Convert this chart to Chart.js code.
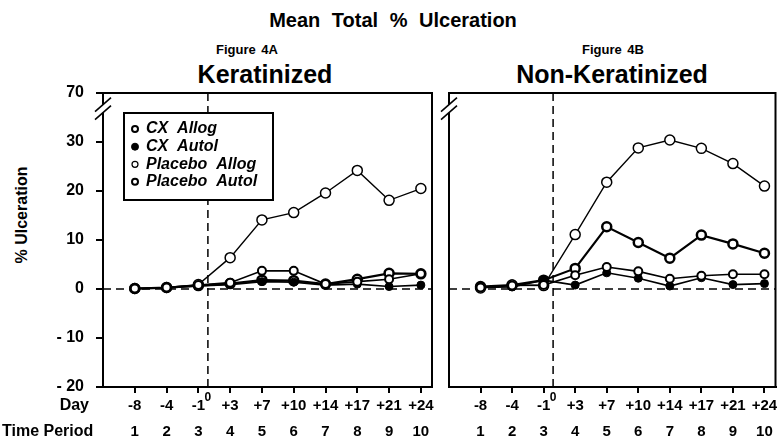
<!DOCTYPE html>
<html><head><meta charset="utf-8">
<script src="https://cdn.jsdelivr.net/npm/chart.js@4.4.0/dist/chart.umd.min.js"></script>
<style>
html,body{margin:0;padding:0;background:#fff;}
body{width:783px;height:441px;position:relative;overflow:hidden;font-family:"Liberation Sans",Arial,sans-serif;font-weight:bold;color:#000;}
.t{position:absolute;white-space:nowrap;transform:translate(-50%,-50%);}
#wa{position:absolute;left:0;top:80px;width:440px;height:361px;}
#wb{position:absolute;left:440px;top:80px;width:343px;height:361px;}
</style></head><body>
<div class="t" style="left:393px;top:20px;font-size:20px;word-spacing:6px">Mean Total % Ulceration</div>
<div class="t" style="left:247px;top:49px;font-size:13px;word-spacing:2px">Figure 4A</div>
<div class="t" style="left:265px;top:74px;font-size:25px">Keratinized</div>
<div class="t" style="left:613px;top:49px;font-size:13px;word-spacing:2px">Figure 4B</div>
<div class="t" style="left:612px;top:74px;font-size:25px">Non-Keratinized</div>
<div class="t" style="left:22px;top:215px;font-size:16px;transform:translate(-50%,-50%) rotate(-90deg)">% Ulceration</div>
<div id="wa"><canvas id="ca"></canvas></div>
<div id="wb"><canvas id="cb"></canvas></div>
<script>
// ---- data ----
const periods = [1,2,3,4,5,6,7,8,9,10];
const dayLabels = ['-8','-4','-1','+3','+7','+10','+14','+17','+21','+24'];
const periodLabels = ['1','2','3','4','5','6','7','8','9','10'];
const seriesNames = ['CX Allog','CX Autol','Placebo Allog','Placebo Autol'];
const yTickValues = [-20,-10,0,10,20,30,40];
const yTickLabels = ['- 20','- 10','0','10','20','30','70'];
const dayZeroPosition = 3.3;
const breakValue = 36.8;

// Figure 4A Keratinized
const kerCxAllog      = [0.1, 0.3, 0.8, 1.3, 3.7, 3.7, 1.0, 1.5, 2.0, 3.1];
const kerCxAutol      = [0.0, 0.2, 0.6, 0.9, 1.5, 1.4, 0.8, 1.0, 0.5, 0.8];
const kerPlaceboAllog = [0.1, 0.3, 0.9, 6.4, 14.1, 15.6, 19.6, 24.2, 18.1, 20.5];
const kerPlaceboAutol = [0.1, 0.3, 0.7, 1.1, 1.8, 1.7, 1.0, 2.0, 3.2, 3.1];

// Figure 4B Non-Keratinized
const nonCxAllog      = [0.3, 0.7, 0.8, 2.8, 4.5, 3.6, 2.1, 2.7, 3.0, 3.0];
const nonCxAutol      = [0.3, 0.4, 1.8, 0.8, 3.3, 2.2, 0.6, 2.3, 0.9, 1.1];
const nonPlaceboAllog = [0.2, 0.8, 0.7, 11.1, 21.8, 28.8, 30.4, 28.7, 25.6, 21.0];
const nonPlaceboAutol = [0.5, 0.8, 1.8, 4.2, 12.7, 9.5, 6.3, 11.0, 9.2, 7.3];

// ---- styles ----
const FONT = '"Liberation Sans", Arial, sans-serif';
const styles = [
  {pointRadius:4, pointBorderWidth:2, pointBackgroundColor:'#fff', borderWidth:1.6},
  {pointRadius:4, pointBorderWidth:1, pointBackgroundColor:'#000', borderWidth:1.6},
  {pointRadius:5, pointBorderWidth:1.5, pointBackgroundColor:'#fff', borderWidth:1.4},
  {pointRadius:4.5, pointBorderWidth:2.5, pointBackgroundColor:'#fff', borderWidth:2.2}
];

function makeDatasets(arrs){
  return arrs.map((arr, i) => Object.assign({
    label: seriesNames[i],
    data: periods.map((p, j) => ({x: p, y: arr[j]})),
    borderColor: '#000',
    pointBorderColor: '#000',
    pointStyle: 'circle',
    pointHoverRadius: 5,
    tension: 0,
    clip: false
  }, styles[i]));
}

function makeDecor(isLeft){
  return {
    id: 'decor',
    beforeDatasetsDraw(chart){
      const {ctx, chartArea: a, scales: {x, y}} = chart;
      ctx.save();
      ctx.strokeStyle = '#000'; ctx.lineWidth = 2; ctx.setLineDash([]);
      ctx.beginPath(); ctx.moveTo(a.left, a.top); ctx.lineTo(a.right, a.top); ctx.lineTo(a.right, a.bottom); ctx.stroke();
      ctx.lineWidth = 1.5; ctx.setLineDash([8, 5]);
      const y0 = y.getPixelForValue(0);
      ctx.beginPath(); ctx.moveTo(a.left, y0); ctx.lineTo(a.right, y0); ctx.stroke();
      const xd = x.getPixelForValue(dayZeroPosition);
      ctx.beginPath(); ctx.moveTo(xd, a.top); ctx.lineTo(xd, a.bottom); ctx.stroke();
      ctx.restore();
    },
    afterDraw(chart){
      const {ctx, chartArea: a, scales: {x, y}} = chart;
      ctx.save();
      // axis break
      const yb = y.getPixelForValue(breakValue);
      const xa = a.left;
      ctx.fillStyle = '#fff'; ctx.fillRect(xa - 2, yb - 4, 4, 8);
      ctx.strokeStyle = '#000'; ctx.lineWidth = 1.6; ctx.setLineDash([]);
      for (const d of [-4, 4]) {
        ctx.beginPath(); ctx.moveTo(xa - 8, yb + d + 7); ctx.lineTo(xa + 8, yb + d - 7); ctx.stroke();
      }
      // superscript 0 at day 0
      const xd = x.getPixelForValue(dayZeroPosition);
      ctx.fillStyle = '#000';
      ctx.font = 'bold 12px ' + FONT;
      ctx.textAlign = 'center'; ctx.textBaseline = 'middle';
      ctx.fillText('0', xd, a.bottom + 11);
      if (isLeft) {
        ctx.font = 'bold 16px ' + FONT;
        ctx.textAlign = 'right';
        ctx.fillText('Day', 89, a.bottom + 19);
        ctx.textAlign = 'left';
        ctx.fillText('Time Period', 2, a.bottom + 45);
        // legend
        const bx = 124, by = 33, bw = 149, bh = 87;
        ctx.fillStyle = '#fff'; ctx.fillRect(bx, by, bw, bh);
        ctx.strokeStyle = '#000'; ctx.lineWidth = 2; ctx.strokeRect(bx, by, bw, bh);
        const rows = [49, 66.7, 84.3, 101.7];
        chart.data.datasets.forEach((ds, i) => {
          const st = styles[i];
          ctx.beginPath();
          ctx.arc(135, rows[i], i === 1 ? 3.5 : 3, 0, Math.PI * 2);
          ctx.fillStyle = st.pointBackgroundColor; ctx.fill();
          ctx.lineWidth = i === 2 ? 1.2 : (i === 1 ? 1 : 2);
          ctx.strokeStyle = '#000'; ctx.stroke();
          ctx.fillStyle = '#000';
          ctx.font = 'italic bold 16px ' + FONT;
          ctx.textAlign = 'left'; ctx.textBaseline = 'middle';
          ctx.fillText(ds.label.replace(' ', '  '), 146, rows[i]);
        });
      }
      ctx.restore();
    }
  };
}

function makeChart(id, arrs, isLeft){
  return new Chart(document.getElementById(id), {
    type: 'line',
    data: {datasets: makeDatasets(arrs)},
    plugins: [makeDecor(isLeft)],
    options: {
      responsive: true,
      maintainAspectRatio: false,
      animation: false,
      events: [],
      layout: {padding: {top: 13, right: isLeft ? 8 : 3, left: 0, bottom: 0}},
      plugins: {legend: {display: false}, tooltip: {enabled: false}, title: {display: false}},
      scales: {
        x: {
          type: 'linear', min: 0, max: 10.35,
          afterBuildTicks(s){ s.ticks = periods.map(v => ({value: v})); },
          afterFit(s){ s.height = 54; s.paddingLeft = 0; s.paddingRight = 0; s.paddingTop = 0; s.paddingBottom = 0; },
          ticks: {
            autoSkip: false, maxRotation: 0, padding: 0, color: '#000',
            font: {family: FONT, size: 15, weight: 'bold', lineHeight: 26/15},
            callback(v){ const i = periods.indexOf(v); return i < 0 ? '' : [dayLabels[i], periodLabels[i]]; }
          },
          grid: {display: true, drawOnChartArea: false, drawTicks: true, tickLength: 6, color: '#000', lineWidth: 2},
          border: {display: true, color: '#000', width: 2}
        },
        y: {
          type: 'linear', min: -20, max: 40,
          afterBuildTicks(s){ s.ticks = yTickValues.map(v => ({value: v})); },
          afterFit(s){ s.width = isLeft ? 103 : 9; s.paddingTop = 0; s.paddingBottom = 0; s.paddingLeft = 0; s.paddingRight = 0; },
          ticks: {
            display: isLeft, padding: 12, color: '#000',
            font: {family: FONT, size: 16, weight: 'bold'},
            callback(v){ const i = yTickValues.indexOf(v); return i < 0 ? '' : yTickLabels[i]; }
          },
          grid: {display: true, drawOnChartArea: false, drawTicks: isLeft, tickLength: 7, color: '#000', lineWidth: 2},
          border: {display: true, color: '#000', width: 2}
        }
      }
    }
  });
}

makeChart('ca', [kerCxAllog, kerCxAutol, kerPlaceboAllog, kerPlaceboAutol], true);
makeChart('cb', [nonCxAllog, nonCxAutol, nonPlaceboAllog, nonPlaceboAutol], false);
</script>
</body></html>
